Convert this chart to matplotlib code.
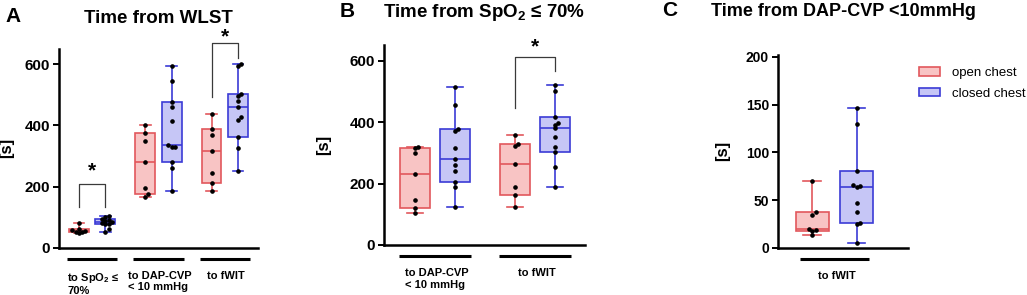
import numpy as np
import matplotlib
matplotlib.use("Agg")
import matplotlib.pyplot as plt
import matplotlib.transforms as mtransforms
from matplotlib.patches import Patch

plt.rcParams['font.family'] = ['Liberation Sans', 'DejaVu Sans']
plt.rcParams['mathtext.fontset'] = 'custom'
plt.rcParams['mathtext.rm'] = 'Liberation Sans:bold'
plt.rcParams['mathtext.bf'] = 'Liberation Sans:bold'
plt.rcParams['mathtext.default'] = 'bf'

# panel A: time from WLST
a_groups = ["to SpO$_2$ \u2264\n70%", "to DAP-CVP\n< 10 mmHg", "to fWIT"]
a_open = [
    [48, 50, 52, 55, 57, 60, 80],
    [165, 175, 195, 280, 350, 376, 400],
    [185, 213, 245, 315, 370, 389, 439],
]
a_closed = [
    [52, 60, 77, 78, 82, 85, 88, 90, 94, 100, 105],
    [186, 260, 280, 329, 331, 335, 415, 460, 475, 546, 596],
    [251, 325, 362, 417, 427, 459, 480, 495, 502, 593, 601],
]

# panel B: time from SpO2 <= 70%
b_groups = ["to DAP-CVP\n< 10 mmHg", "to fWIT"]
b_open = [
    [105, 122, 147, 230, 301, 315, 320],
    [123, 163, 190, 264, 324, 329, 358],
]
b_closed = [
    [125, 190, 206, 241, 261, 279, 315, 373, 377, 456, 516],
    [190, 253, 304, 321, 352, 380, 391, 397, 418, 503, 520],
]

# panel C: time from DAP-CVP < 10 mmHg
c_groups = ["to fWIT"]
c_open = [[13, 17, 19, 20, 34, 37, 70]]
c_closed = [[5, 25, 26, 37, 47, 64, 65, 66, 80, 130, 146]]

OPEN_FILL, OPEN_EDGE = '#f8c4c4', '#e2575c'
CLOSED_FILL, CLOSED_EDGE = '#c6c6f6', '#3b3bd6'


def box_stats(vals):
    q1, med, q3 = np.percentile(vals, [25, 50, 75], method='weibull')
    return dict(med=med, q1=q1, q3=q3, whislo=min(vals), whishi=max(vals), fliers=[])


def swarm_offsets(ax, x0, vals, step_px=3.3):
    placed = []
    offs = []
    xunit = ax.transData.transform((1, 0))[0] - ax.transData.transform((0, 0))[0]
    for v in vals:
        py = ax.transData.transform((x0, v))[1]
        for k in [0, 1, -1, 2, -2, 3, -3]:
            px = k * step_px
            if all(not (abs(py - qy) < step_px and abs(px - qx) < step_px) for qx, qy in placed):
                break
        placed.append((px, py))
        offs.append(px / xunit)
    return np.array(offs)


def draw_panel(fig, rect, groups, opens, closeds, spacing, xlim, ylim, yticks,
               bar_half, tick_fs, label_x):
    ax = fig.add_axes(rect)
    ax.set_xlim(*xlim)
    ax.set_ylim(*ylim)
    centers = [1.5 + spacing * i for i in range(len(groups))]
    for i, c in enumerate(centers):
        for vals, pos, fc, ec in [(opens[i], c - 0.5, OPEN_FILL, OPEN_EDGE),
                                  (closeds[i], c + 0.5, CLOSED_FILL, CLOSED_EDGE)]:
            ax.bxp([box_stats(vals)], positions=[pos], widths=0.75, patch_artist=True,
                   showfliers=False,
                   boxprops=dict(facecolor=fc, edgecolor=ec, linewidth=1.2),
                   medianprops=dict(color=ec, linewidth=1.2),
                   whiskerprops=dict(color=ec, linewidth=1.2),
                   capprops=dict(color=ec, linewidth=1.2),
                   capwidths=0.4)
            vs = np.sort(vals)
            offs = swarm_offsets(ax, pos, vs)
            ax.plot(pos + offs, vs, 'o', color='black', markersize=2.3, zorder=5)

    ax.set_yticks(yticks)
    ax.set_xticks([])
    for s in ['top', 'right']:
        ax.spines[s].set_visible(False)
    for s in ['left', 'bottom']:
        ax.spines[s].set_linewidth(1.8)
    ax.tick_params(axis='y', length=4.5, width=1.4, pad=2, labelsize=tick_fs)
    for lab in ax.get_yticklabels():
        lab.set_fontweight('bold')
    ax.set_ylabel('[s]', fontsize=12, fontweight='bold')
    ax.yaxis.set_label_coords(label_x, 0.5)

    bar_tr = mtransforms.offset_copy(ax.get_xaxis_transform(), fig=fig, y=-8, units='points')
    for c, name in zip(centers, groups):
        ax.plot([c - bar_half, c + bar_half], [0, 0], color='black', linewidth=2.2,
                transform=bar_tr, clip_on=False, solid_capstyle='butt')
        ax.annotate(name, xy=(c + 0.05, 0), xycoords=('data', 'axes fraction'),
                    xytext=(0, -16.5), textcoords='offset points', ha='center', va='top',
                    multialignment='left', fontsize=8, fontweight='bold')
    return ax


def bracket(ax, x1, x2, top, left_bottom, right_bottom, star_y):
    ax.plot([x1, x1, x2, x2], [left_bottom, top, top, right_bottom], color='#3a3a3a',
            linewidth=0.9, clip_on=False)
    ax.text((x1 + x2) / 2, star_y, '*', ha='center', va='center', fontsize=15,
            fontweight='bold', clip_on=False)


fig = plt.figure(figsize=(10.27, 2.95), dpi=100)

axA = draw_panel(fig, [0.0574, 0.1603, 0.1938, 0.6736], a_groups, a_open, a_closed,
                 2.5, (0.25, 7.75), (0, 650), [0, 200, 400, 600], 0.95, 11, -0.226)
axB = draw_panel(fig, [0.3739, 0.1695, 0.1957, 0.678], b_groups, b_open, b_closed,
                 2.5, (0.22, 5.26), (0, 652), [0, 200, 400, 600], 0.9, 11, -0.264)
axC = draw_panel(fig, [0.7576, 0.1603, 0.1266, 0.6532], c_groups, c_open, c_closed,
                 2.5, (0.23, 3.16), (0, 202), [0, 50, 100, 150, 200], 0.77, 10, -0.37)

bracket(axA, 1, 2, 209, 132, 132, 250)
bracket(axA, 6, 7, 670, 494, 621, 690)
bracket(axB, 3.5, 4.5, 612, 446, 568, 645)

fig.text(0.1545, 0.922, 'Time from WLST', ha='center', va='baseline', fontsize=13.5,
         fontweight='bold')
fig.text(0.4717, 0.943, 'Time from SpO$_2$ \u2264 70%', ha='center', va='baseline',
         fontsize=13.5, fontweight='bold')
fig.text(0.8209, 0.947, 'Time from DAP-CVP <10mmHg', ha='center', va='baseline',
         fontsize=13, fontweight='bold')

fig.text(0.005, 0.925, 'A', fontsize=15, fontweight='bold', va='baseline')
fig.text(0.331, 0.943, 'B', fontsize=15, fontweight='bold', va='baseline')
fig.text(0.645, 0.947, 'C', fontsize=15, fontweight='bold', va='baseline')

handles = [Patch(facecolor=OPEN_FILL, edgecolor=OPEN_EDGE, linewidth=1.2, label='open chest'),
           Patch(facecolor=CLOSED_FILL, edgecolor=CLOSED_EDGE, linewidth=1.2, label='closed chest')]
fig.legend(handles=handles, loc='upper left', bbox_to_anchor=(0.8948, 0.772), frameon=False,
           fontsize=9.5, handlelength=1.6, handleheight=0.6, handletextpad=0.9,
           labelspacing=0.65, borderpad=0, borderaxespad=0)

fig.savefig('out.png', dpi=100)
